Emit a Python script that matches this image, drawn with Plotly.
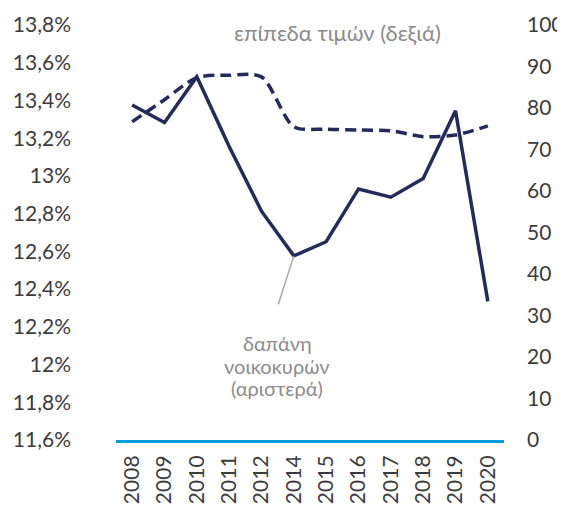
import plotly.graph_objects as go

years = ["2008", "2009", "2010", "2011", "2012", "2014", "2015", "2016", "2017", "2018", "2019", "2020"]
household_spending = [13.376, 13.283, 13.526, 13.156, 12.813, 12.576, 12.651, 12.931, 12.887, 12.986, 13.345, 12.335]
price_levels = [76.7, 82.0, 87.3, 87.9, 87.5, 75.5, 74.9, 74.7, 74.5, 73.1, 73.5, 75.7]

left_vals = [11.6, 11.8, 12.0, 12.2, 12.4, 12.6, 12.8, 13.0, 13.2, 13.4, 13.6, 13.8]
left_text = ["11,6%", "11,8%", "12%", "12,2%", "12,4%", "12,6%", "12,8%", "13%", "13,2%", "13,4%", "13,6%", "13,8%"]
right_vals = [0, 10, 20, 30, 40, 50, 60, 70, 80, 90, 100]

price_label = "επίπεδα τιμών (δεξιά)"
spending_label_lines = ["δαπάνη", "νοικοκυρών", "(αριστερά)"]

navy = "#232A5C"
grey_text = "#8C8C8C"
tick_color = "#3C3C3C"
font_family = "Lato, 'Open Sans', sans-serif"

low_idx = household_spending.index(min(household_spending[:8]))

fig = go.Figure()
fig.add_trace(go.Scatter(
    x=years, y=household_spending, mode="lines",
    line=dict(color=navy, width=3.5), yaxis="y", showlegend=False,
))
fig.add_trace(go.Scatter(
    x=years, y=price_levels, mode="lines",
    line=dict(color=navy, width=3.5, dash="11px,6px", shape="spline", smoothing=0.8),
    yaxis="y2", showlegend=False,
))

annotations = [
    dict(text=price_label, xref="paper", yref="paper",
         x=0.57, y=0.981, showarrow=False, xanchor="center", yanchor="middle",
         font=dict(size=22, color=grey_text)),
    dict(text="", x=low_idx, y=household_spending[low_idx], xref="x", yref="y",
         showarrow=True, arrowhead=0, arrowwidth=1.5, arrowcolor="#A6A6A6",
         ax=-16, ay=50),
]
for line_text, ypos in zip(spending_label_lines, [0.234, 0.178, 0.125]):
    annotations.append(dict(
        text=line_text, xref="paper", yref="paper", x=0.415, y=ypos,
        showarrow=False, xanchor="center", yanchor="middle",
        font=dict(size=20, color=grey_text)))

# page body adds an 8px offset; figure sized so it ends at the window edge
fig.update_layout(
    width=557, height=498,
    margin=dict(l=108, r=61, t=17, b=66),
    paper_bgcolor="white", plot_bgcolor="white",
    font=dict(family=font_family, color=tick_color, size=21),
    xaxis=dict(
        type="category", range=[-0.5, len(years) - 0.5], autorange=False,
        tickangle=-90, showgrid=False, zeroline=False, automargin=False,
        showline=True, linecolor="#009FDF", linewidth=3, ticks="",
        tickfont=dict(size=21, color=tick_color), ticklabelstandoff=4,
    ),
    yaxis=dict(
        range=[11.6, 13.8], tickvals=left_vals, ticktext=left_text, automargin=False,
        showgrid=False, zeroline=False, showline=False, ticks="",
        ticklabelstandoff=44, tickfont=dict(size=21, color=tick_color),
    ),
    yaxis2=dict(
        range=[0, 100], tickvals=right_vals, overlaying="y", side="right", automargin=False,
        showgrid=False, zeroline=False, showline=False, ticks="",
        ticklabelstandoff=22, tickfont=dict(size=21, color=tick_color),
    ),
    annotations=annotations,
)

fig.write_html("out.html")
